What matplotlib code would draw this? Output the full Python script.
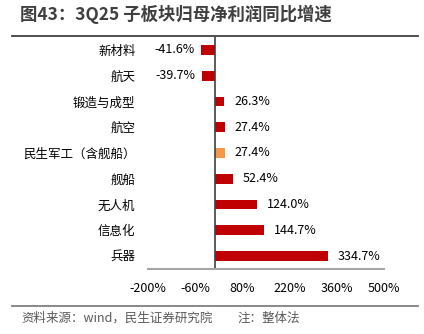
import matplotlib.pyplot as plt
from matplotlib.lines import Line2D

plt.rcParams['font.family'] = ['Noto Sans CJK SC', 'DejaVu Sans']

categories = ['新材料', '航天', '锻造与成型', '航空', '民生军工（含舰船）',
              '舰船', '无人机', '信息化', '兵器']
values = [-41.6, -39.7, 26.3, 27.4, 27.4, 52.4, 124.0, 144.7, 334.7]
colors = ['#C00000'] * 4 + ['#F79646'] + ['#C00000'] * 4
xticks = [-200, -60, 80, 220, 360, 500]

fig = plt.figure(figsize=(4.24, 3.34), dpi=100)
ax = fig.add_axes([148 / 424, 65 / 334, 236 / 424, 232 / 334])

ypos = list(range(len(categories)))
ax.barh(ypos, values, height=0.38, color=colors)
ax.set_ylim(len(categories) - 0.5, -0.5)
ax.set_xlim(-200, 500)
ax.axvline(0, color='#404040', lw=1.2)

for y, v in zip(ypos, values):
    if v < 0:
        ax.annotate(f'{v:.1f}%', (v, y), xytext=(-5, 0), textcoords='offset points',
                    ha='right', va='center', fontsize=9, color='#000000')
    else:
        ax.annotate(f'{v:.1f}%', (v, y), xytext=(7, 0), textcoords='offset points',
                    ha='left', va='center', fontsize=9, color='#000000')

ax.set_yticks(ypos)
ax.set_yticklabels(categories, fontsize=9)
ax.set_xticks(xticks)
ax.set_xticklabels([f'{t}%' for t in xticks], fontsize=9)
ax.tick_params(axis='y', length=0, pad=9)
ax.tick_params(axis='x', length=0, pad=9)

for s in ['top', 'right', 'left']:
    ax.spines[s].set_visible(False)
ax.spines['bottom'].set_color('#a6a6a6')
ax.spines['bottom'].set_linewidth(1.5)

fig.text(20 / 424, 1 - 14 / 334, '图43：3Q25 子板块归母净利润同比增速', fontsize=12.5,
         fontweight='bold', color='#3f3f3f', ha='left', va='center')
fig.add_artist(Line2D([12 / 424, 418 / 424], [1 - 36 / 334, 1 - 36 / 334],
                      color='#404040', lw=1.3))
fig.add_artist(Line2D([12 / 424, 418 / 424], [1 - 306 / 334, 1 - 306 / 334],
                      color='#808080', lw=1.3))
fig.text(21 / 424, 1 - 318 / 334, '资料来源：wind，民生证券研究院', fontsize=9,
         color='#595959', ha='left', va='center')
fig.text(237 / 424, 1 - 318 / 334, '注：整体法', fontsize=9,
         color='#595959', ha='left', va='center')

fig.savefig('out.png', dpi=100)
